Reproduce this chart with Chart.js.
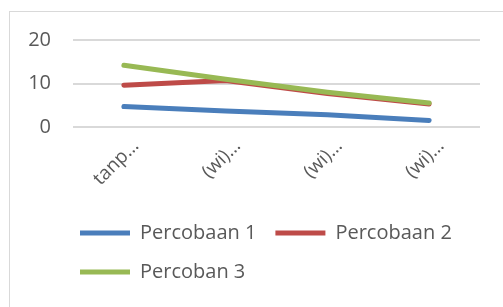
<!DOCTYPE html>
<html>
<head>
<meta charset="utf-8">
<script src="https://cdn.jsdelivr.net/npm/chart.js@4/dist/chart.umd.min.js"></script>
<style>
  html, body { margin: 0; padding: 0; background: #fff; overflow: hidden; }
  #frame { position: absolute; left: 9px; top: 11px; width: 600px; height: 400px; border-left: 1px solid #d9d9d9; border-top: 1px solid #d9d9d9; }
  #wrap { position: absolute; left: 0; top: 0; width: 503px; height: 307px; }
</style>
</head>
<body>
<div id="frame"></div>
<div id="wrap"><canvas id="lineChart"></canvas></div>
<script>
// categories (labels are cut off in the original picture)
const labels = ['tanp…', '(wi)…', '(wi)…', '(wi)…'];

const seriesNames = ['Percobaan 1', 'Percobaan 2', 'Percoban 3'];
const percobaan1 = [4.7, 3.7, 2.8, 1.5];
const percobaan2 = [9.6, 10.7, 7.7, 5.3];
const percobaan3 = [14.2, 11.0, 8.0, 5.5];

const yTicks = [0, 10, 20];

const textColor = '#595959';
const fontFamily = "'Open Sans', 'Noto Sans', sans-serif";

// push the legend to the left, like the excel one
const legendShift = {
    id: 'legendShift',
    afterLayout(chart) {
        const pad = chart.options.plugins.legend.labels.padding;
        chart.legend.left = 80 - pad;
    }
};

function makeDataset(label, data, color, order) {
    return {
        label: label,
        data: data,
        borderColor: color,
        backgroundColor: color,
        borderWidth: 5,
        borderCapStyle: 'round',
        borderJoinStyle: 'round',
        pointRadius: 0,
        pointHoverRadius: 0,
        tension: 0,
        order: order
    };
}

const ctx = document.getElementById('lineChart').getContext('2d');
const chart = new Chart(ctx, {
    type: 'line',
    data: {
        labels: labels,
        datasets: [
            makeDataset(seriesNames[0], percobaan1, '#4a7ebb', 3),
            makeDataset(seriesNames[1], percobaan2, '#be4b48', 2),
            makeDataset(seriesNames[2], percobaan3, '#98b954', 1)
        ]
    },
    options: {
        responsive: true,
        maintainAspectRatio: false,
        animation: false,
        layout: {
            padding: { left: 0, right: 23, top: 40, bottom: 15 }
        },
        scales: {
            x: {
                offset: true,
                grid: { display: false },
                border: { display: false },
                ticks: {
                    color: textColor,
                    font: { family: fontFamily, size: 19 },
                    minRotation: 45,
                    maxRotation: 45,
                    padding: 0,
                    labelOffset: 12
                },
                afterFit: function(scale) {
                    scale.height = 77;
                }
            },
            y: {
                min: 0,
                max: 20,
                grid: { color: '#d9d9d9', lineWidth: 2, drawTicks: false },
                border: { display: false },
                afterBuildTicks: function(scale) {
                    scale.ticks = yTicks.map(v => ({ value: v }));
                },
                ticks: {
                    color: textColor,
                    font: { family: fontFamily, size: 20 },
                    padding: 22
                },
                afterFit: function(scale) {
                    scale.width = 73;
                }
            }
        },
        plugins: {
            tooltip: { enabled: false },
            legend: {
                position: 'bottom',
                align: 'start',
                labels: {
                    color: textColor,
                    font: { family: fontFamily, size: 20 },
                    usePointStyle: true,
                    pointStyle: 'line',
                    pointStyleWidth: 50,
                    padding: 19,
                    sort: (a, b) => a.datasetIndex - b.datasetIndex
                }
            }
        }
    },
    plugins: [legendShift]
});
</script>
</body>
</html>
